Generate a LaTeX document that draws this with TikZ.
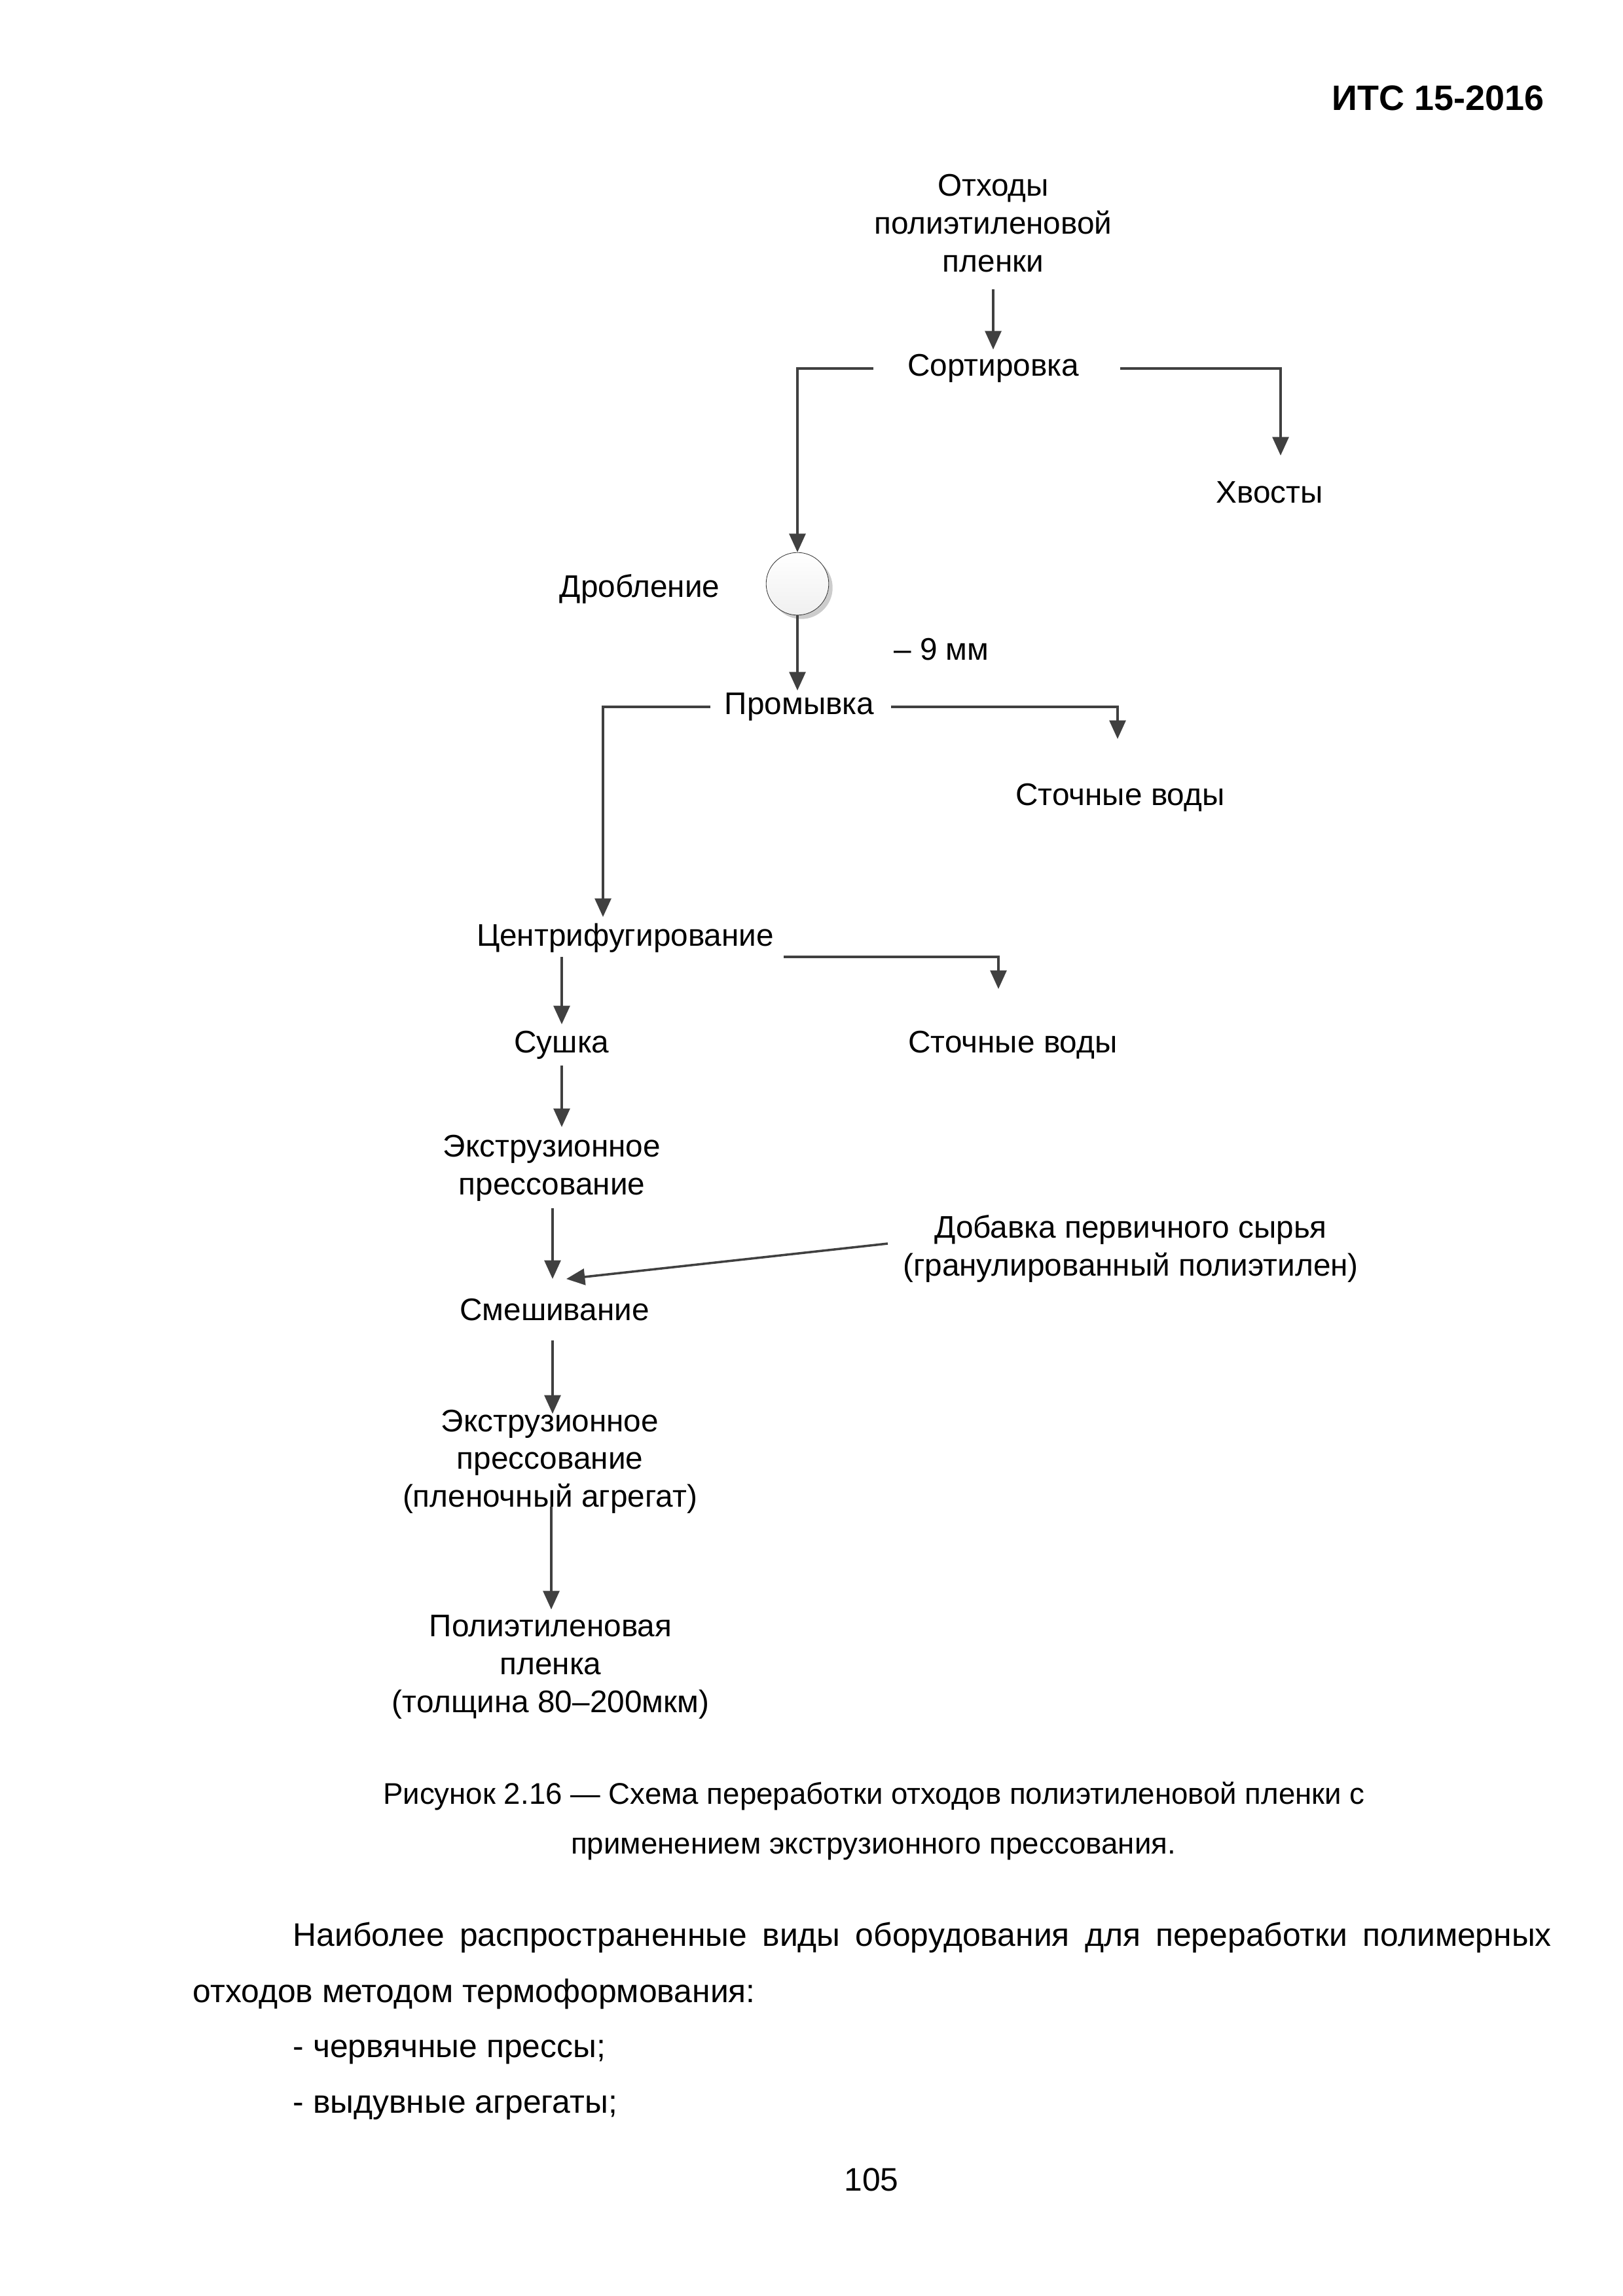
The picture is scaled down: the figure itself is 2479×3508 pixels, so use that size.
\documentclass[tikz,border=0pt]{standalone}
\usepackage{fontspec}
\setmainfont{Liberation Sans}
\usetikzlibrary{positioning, calc, arrows.meta, shadows}
\definecolor{ln}{RGB}{64,64,64}

\begin{document}
\begin{tikzpicture}[x=0.0847mm, y=-0.0847mm,
    main/.style = {font=\fontsize{11.5}{13.9}\selectfont, align=center, inner sep=1pt},
    body/.style = {font=\fontsize{12}{14}\selectfont, inner sep=0pt},
    flow/.style = {draw=ln, line width=0.85pt, -{Triangle[length=2.4mm, width=2.1mm]}}]
    \useasboundingbox (0,0) rectangle (2479,3508);

    \node[anchor=base east, inner sep=0pt, font=\bfseries\fontsize{13}{15}\selectfont] (h) at (2359,168) {ИТС 15-2016};

    % scheme
    \node[main] (1) at (1517,341) {Отходы\\полиэтиленовой\\пленки};
    \node[main] (2) at (1517,563) {Сортировка};
    \node[main] (3) at (1939,752) {Хвосты};
    \node[circle, draw=black!80, very thin, minimum size=8.1mm, top color=white, bottom color=gray!12,
        drop shadow={shadow xshift=0.5mm, shadow yshift=-0.5mm, fill=gray!40, opacity=1}] (4) at (1218,892) {};
    \node[main] (5) at (977,900) {Дробление};
    \node[main] (6) at (1438,992) {– 9 мм};
    \node[main] (7) at (1221,1080) {Промывка};
    \node[main] (8) at (1711,1219) {Сточные воды};
    \node[main] (9) at (955,1433) {Центрифугирование};
    \node[main] (10) at (1547,1597) {Сточные воды};
    \node[main] (11) at (858,1597) {Сушка};
    \node[main] (12) at (843,1785) {Экструзионное\\прессование};
    \node[main] (13) at (1727,1908) {Добавка первичного сырья\\(гранулированный полиэтилен)};
    \node[main] (14) at (847,2001) {Смешивание};
    \node[main] (15) at (840,2233) {Экструзионное\\прессование\\(пленочный агрегат)};
    \node[main] (16) at (841,2547) {Полиэтиленовая\\пленка\\(толщина 80–200мкм)};

    \draw[flow] ($(1)+(0,101)$) -- ($(2)+(0,-29)$);
    \draw[flow] ($(2)+(-183,0)$) -| (4.north);
    \draw[flow] ($(2)+(194,0)$) -| ($(3)+(17,-56)$);
    \draw[flow] (4.south) -- ($(4.south |- 7)+(0,-25)$);
    \draw[flow] ($(7)+(-136,0)$) -| ($(9)+(-34,-32)$);
    \draw[flow] ($(7)+(140,0)$) -| ($(8)+(-4,-90)$);
    \draw[flow] ($(9)+(242,29)$) -| ($(10)+(-22,-86)$);
    \draw[flow] ($(9)+(-97,29)$) -- ($(11)+(0,-32)$);
    \draw[flow] ($(11)+(0,31)$) -- ($(12)+(15,-63)$);
    \draw[flow] ($(12)+(1,61)$) -- ($(14)+(-3,-47)$);
    \draw[flow] ($(13)+(-371,-8)$) -- ($(14)+(18,-47)$);
    \draw[flow] ($(14)+(-3,47)$) -- ($(15)+(4,-73)$);
    \draw[flow] ($(15)+(2,69)$) -- ($(16)+(1,-88)$);

    % caption and text
    \node[body, font=\fontsize{11}{13}\selectfont] (c1) at (1335,2744) {Рисунок 2.16 — Схема переработки отходов полиэтиленовой пленки с};
    \node[body, font=\fontsize{11}{13}\selectfont] (c2) at (1334,2825) {применением экструзионного прессования.};
    \node[body, anchor=west] (p1) at (447,2960) {\makebox[162.8mm][s]{Наиболее распространенные виды оборудования для переработки полимерных}};
    \node[body, anchor=west] (p2) at (294,3047) {отходов методом термоформования:};
    \node[body, anchor=west] (p3) at (447,3135) {- червячные прессы;};
    \node[body, anchor=west] (p4) at (447,3220) {- выдувные агрегаты;};
    \node[body] (n) at (1331,3330) {105};
\end{tikzpicture}
\end{document}
